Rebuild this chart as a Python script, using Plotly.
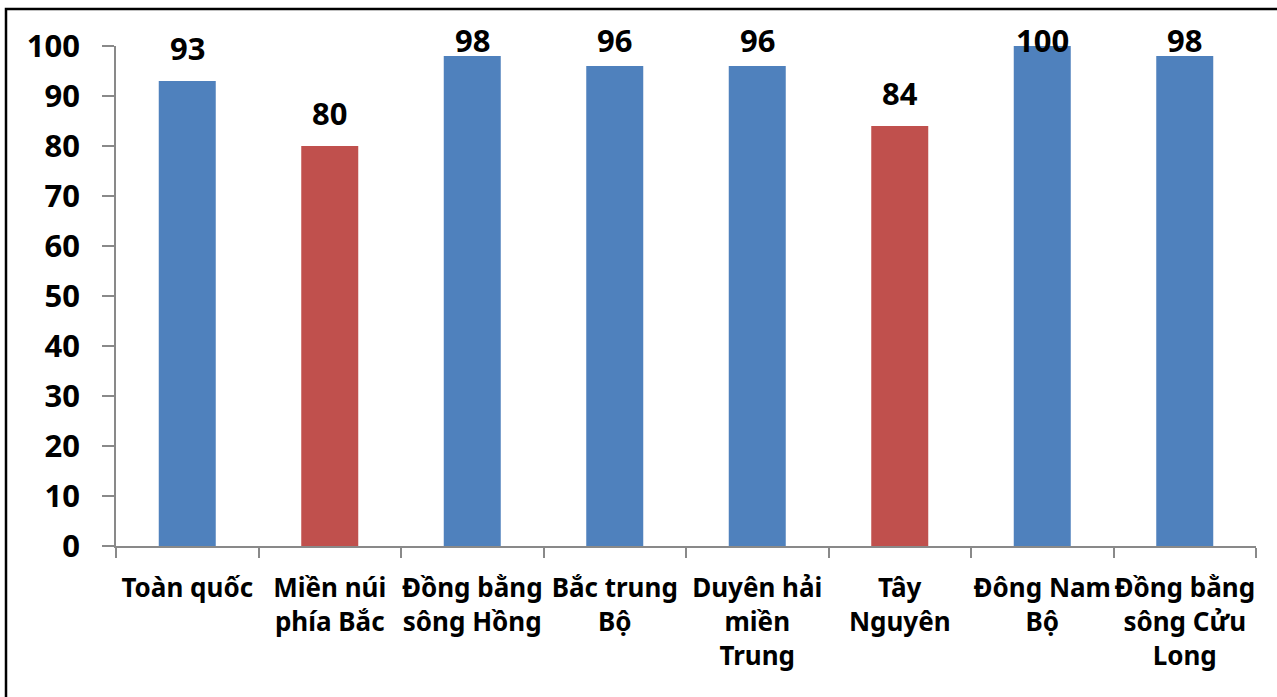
import plotly.graph_objects as go

categories = ["Toàn quốc", "Miền núi<br>phía Bắc", "Đồng bằng<br>sông Hồng", "Bắc trung<br>Bộ",
              "Duyên hải<br>miền<br>Trung", "Tây<br>Nguyên", "Đông Nam<br>Bộ", "Đồng bằng<br>sông Cửu<br>Long"]
values = [93, 80, 98, 96, 96, 84, 100, 98]
bar_colors = ["#4F81BD", "#C0504D", "#4F81BD", "#4F81BD", "#4F81BD", "#C0504D", "#4F81BD", "#4F81BD"]
y_ticks = [0, 10, 20, 30, 40, 50, 60, 70, 80, 90, 100]
Y_MAX = 100

FONT = "Noto Sans"

fig = go.Figure()
fig.add_trace(go.Bar(
    x=categories, y=values, marker=dict(color=bar_colors, line=dict(width=0)),
    width=0.4, showlegend=False, hoverinfo="skip",
))

for c, v in zip(categories, values):
    fig.add_annotation(
        x=c, xref="x", y=min(v + 6.6, 101.2) / Y_MAX, yref="paper",
        text=f"<b>{v}</b>", showarrow=False,
        yanchor="middle", xanchor="center",
        font=dict(family=FONT, size=31, color="black"),
    )

# outer frame
fig.add_shape(type="rect", xref="paper", yref="paper",
              x0=(6 - 116) / 1140, x1=(1300 - 116) / 1140,
              y0=(546 - 720) / 500, y1=(546 - 9) / 500,
              line=dict(color="black", width=2.5), fillcolor="rgba(0,0,0,0)")

fig.update_layout(
    width=1277, height=697,
    margin=dict(l=116, r=21, t=46, b=151),
    plot_bgcolor="white", paper_bgcolor="white",
    font=dict(family=FONT, color="black"),
    bargap=0.6,
)
fig.update_yaxes(
    range=[0, Y_MAX], tickvals=y_ticks, ticktext=[f"<b>{t}</b>" for t in y_ticks],
    showgrid=False, zeroline=False, showline=True, linecolor="#898989", linewidth=1.5,
    ticks="outside", ticklen=12, tickcolor="#898989", tickwidth=1.5,
    tickfont=dict(family=FONT, size=31, color="black"), ticklabelstandoff=16,
)
fig.update_xaxes(
    tickvals=categories, ticktext=[f"<b>{c}</b>" for c in categories],
    showgrid=False, zeroline=False, showline=True, linecolor="#898989", linewidth=1.5,
    ticks="outside", ticklen=10, tickcolor="#898989", tickwidth=1.5, tickson="boundaries",
    tickangle=0, tickfont=dict(family=FONT, size=26, color="black"), ticklabelstandoff=18,
)

fig.write_html("out.html", config={"displayModeBar": False},
               post_script="document.body.style.margin='0';document.body.style.overflow='hidden';")
